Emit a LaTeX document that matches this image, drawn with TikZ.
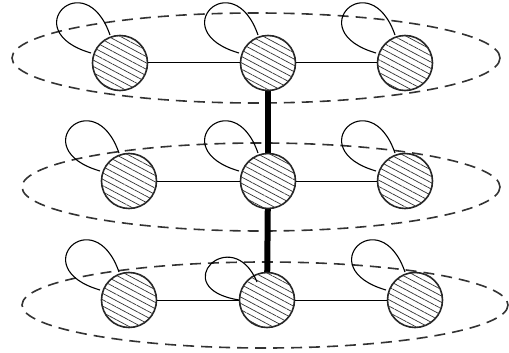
\documentclass[tikz,border=0pt]{standalone}
\usetikzlibrary{patterns.meta,calc}
\begin{document}
\begin{tikzpicture}[x=1pt,y=-1pt,
  layer/.style={draw=black!80,line width=1.6pt,dash pattern=on 11pt off 7pt},
  site/.style={circle,draw=black!85,line width=1.6pt,minimum size=55pt,inner sep=0pt,
    fill=white,postaction={pattern={Lines[angle=-28,distance=5.6pt,line width=0.7pt]},pattern color=black!80}},
  bond/.style={draw=black,line width=1pt},
  link/.style={draw=black,line width=6pt},
  selfloop/.style={draw=black,line width=1.1pt}]
\useasboundingbox (0,0) rectangle (509,353);

% dashed layers
\draw[layer] (256,58) ellipse [x radius=244, y radius=45];
\draw[layer] (261,187) ellipse [x radius=239, y radius=44];
\draw[layer] (265,305) ellipse [x radius=243, y radius=43];

% interlayer links
\coordinate (t) at (268,63);
\coordinate (m) at (268,181);
\coordinate (b) at (267,300);
\draw[link] (t) -- (m);
\draw[link] (m) -- (b);

% sites
\node[site] (a1) at (120,63) {};
\node[site] (a2) at (268,63) {};
\node[site] (a3) at (405,63) {};
\node[site] (b1) at (129,181) {};
\node[site] (b2) at (268,181) {};
\node[site] (b3) at (405,181) {};
\node[site] (c1) at (129,300) {};
\node[site] (c2) at (267,300) {};
\node[site] (c3) at (415,300) {};

% in-layer bonds
\draw[bond] (a1) -- (a2); \draw[bond] (a2) -- (a3);
\draw[bond] (b1) -- (b2); \draw[bond] (b2) -- (b3);
\draw[bond] (c1) -- (c2); \draw[bond] (c2) -- (c3);

% self loops
\foreach \n in {a1,a2,a3,b1,b2,b3,c1,c3}{
  \draw[selfloop] ($(\n.center)+(-10,-28)$) .. controls ($(\n.center)+(-35,-100)$) and ($(\n.center)+(-105,-32)$) .. ($(\n.center)+(-29,-10)$);
}
\draw[selfloop] ($(c2.center)+(-10,-18)$) .. controls ($(c2.center)+(-35,-78)$) and ($(c2.center)+(-102,-12)$) .. ($(c2.center)+(-28,0)$);
\end{tikzpicture}
\end{document}
